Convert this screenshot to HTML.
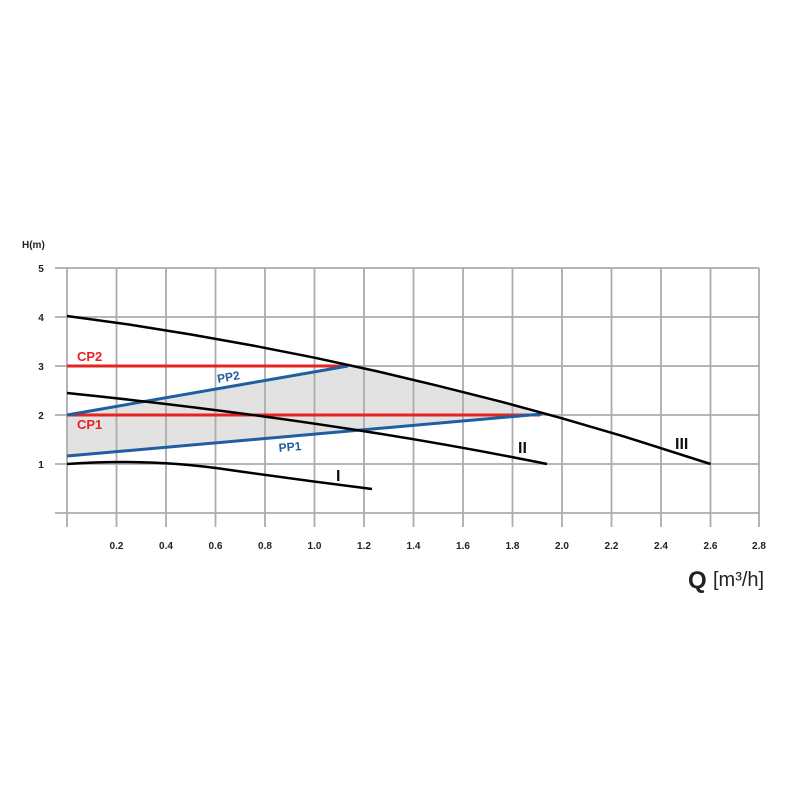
<!DOCTYPE html>
<html><head><meta charset="utf-8"><style>body{margin:0;background:#fff}svg{display:block}</style></head>
<body>
<svg width="800" height="800" viewBox="0 0 800 800" xmlns="http://www.w3.org/2000/svg" font-family="Liberation Sans, sans-serif" font-weight="bold">
<path d="M67,415 L348,366 L376.4,371.1 L438,385.8 L500.1,401.4 L540,415 L67,456 Z" fill="#e2e2e2"/>
<g stroke="#acacac" stroke-width="1.8">
<line x1="55" y1="268" x2="759" y2="268"/><line x1="55" y1="317" x2="759" y2="317"/>
<line x1="55" y1="366" x2="759" y2="366"/><line x1="55" y1="415" x2="759" y2="415"/>
<line x1="55" y1="464" x2="759" y2="464"/><line x1="55" y1="513" x2="759" y2="513"/>
<line x1="67" y1="268" x2="67" y2="527"/><line x1="116.5" y1="268" x2="116.5" y2="527"/>
<line x1="166" y1="268" x2="166" y2="527"/><line x1="215.5" y1="268" x2="215.5" y2="527"/>
<line x1="265" y1="268" x2="265" y2="527"/><line x1="314.5" y1="268" x2="314.5" y2="527"/>
<line x1="364" y1="268" x2="364" y2="527"/><line x1="413.5" y1="268" x2="413.5" y2="527"/>
<line x1="463" y1="268" x2="463" y2="527"/><line x1="512.5" y1="268" x2="512.5" y2="527"/>
<line x1="562" y1="268" x2="562" y2="527"/><line x1="611.5" y1="268" x2="611.5" y2="527"/>
<line x1="661" y1="268" x2="661" y2="527"/><line x1="710.5" y1="268" x2="710.5" y2="527"/>
<line x1="759" y1="268" x2="759" y2="527"/>
</g>
<g font-size="10" fill="#222" text-anchor="middle">
<text x="116.5" y="549">0.2</text><text x="166" y="549">0.4</text><text x="215.5" y="549">0.6</text>
<text x="265" y="549">0.8</text><text x="314.5" y="549">1.0</text><text x="364" y="549">1.2</text>
<text x="413.5" y="549">1.4</text><text x="463" y="549">1.6</text><text x="512.5" y="549">1.8</text>
<text x="562" y="549">2.0</text><text x="611.5" y="549">2.2</text><text x="661" y="549">2.4</text>
<text x="710.5" y="549">2.6</text><text x="759" y="549">2.8</text>
</g>
<g font-size="10" fill="#222" text-anchor="middle">
<text x="41" y="272">5</text><text x="41" y="321">4</text><text x="41" y="370">3</text>
<text x="41" y="419">2</text><text x="41" y="468">1</text>
</g>
<text x="22" y="248" font-size="10" fill="#222">H(m)</text>
<text x="688" y="588" font-size="24" fill="#222">Q</text>
<text x="713" y="586" font-size="20" font-weight="normal" fill="#222">[m³/h]</text>
<g stroke="#e52421" stroke-width="3">
<line x1="67" y1="366" x2="348" y2="366"/><line x1="67" y1="415" x2="540" y2="415"/>
</g>
<g stroke="#1f5fa0" stroke-width="3">
<line x1="67" y1="415" x2="348" y2="366"/><line x1="67" y1="456" x2="542" y2="414"/>
</g>
<g stroke="#000" stroke-width="2.5" fill="none" stroke-linejoin="round">
<path d="M67,316 L128.9,324.5 L191,334.5 L252.6,345.5 L314.5,357.7 L376.4,371.1 L438,385.8 L500.1,401.4 L562,418.3 L623.9,436.4 L710.5,464"/>
<path d="M67,393 Q330,420 547,464"/>
<path d="M67,464 Q150,458 230,470 Q300,480 372,489"/>
</g>
<g font-size="13" fill="#e52421"><text x="77" y="361">CP2</text><text x="77" y="429">CP1</text></g>
<g font-size="12" fill="#1f5fa0"><text x="218" y="383" transform="rotate(-10 218 383)">PP2</text><text x="279" y="452" transform="rotate(-5 279 452)">PP1</text></g>
<g font-size="16" fill="#111"><text x="336" y="481">I</text><text x="518" y="453">II</text><text x="675" y="449">III</text></g>
</svg>
</body></html>
